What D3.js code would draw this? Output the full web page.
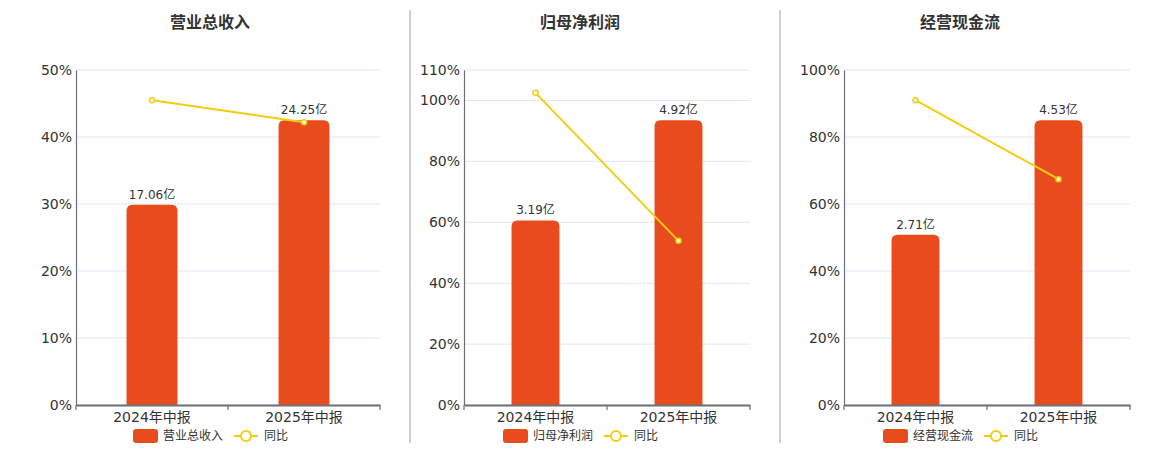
<!DOCTYPE html>
<html>
<head>
<meta charset="utf-8">
<script src="https://cdn.jsdelivr.net/npm/d3@7"></script>
<style>
  body { margin: 0; background: #fff; }
  svg { display: block; font-family: "DejaVu Sans", "Noto Sans CJK SC", sans-serif; }
</style>
</head>
<body>
<div id="chart"></div>
<script>
// data
const periods = ["2024年中报", "2025年中报"];
const titles = ["营业总收入", "归母净利润", "经营现金流"];
const revenue = [17.06, 24.25];
const revenueYoy = [45.5, 42.2];
const netProfit = [3.19, 4.92];
const netProfitYoy = [102.5, 53.9];
const cashFlow = [2.71, 4.53];
const cashFlowYoy = [91.0, 67.4];
const yMaxes = [50, 110, 100];
const yTicks = [
    [0, 10, 20, 30, 40, 50],
    [0, 20, 40, 60, 80, 100, 110],
    [0, 20, 40, 60, 80, 100]
];
const lineName = "同比";

const barColor = "#E84C1D", lineColor = "#F5CD0F";
const width = 1160, height = 450;
const plotTop = 70, plotBottom = 405;

// panel placement
const panels = [
    {left: 76, right: 380, cx: 210},
    {left: 464, right: 750, cx: 580},
    {left: 844, right: 1130, cx: 960}
];
const bars = [revenue, netProfit, cashFlow];
const yoys = [revenueYoy, netProfitYoy, cashFlowYoy];

const svg = d3.select("#chart").append("svg")
    .attr("width", width)
    .attr("height", height);

// separators
svg.selectAll(".sep").data([410, 780]).enter().append("line")
    .attr("class", "sep")
    .attr("x1", d => d).attr("x2", d => d)
    .attr("y1", 10).attr("y2", 443)
    .attr("stroke", "#a0a0a0").attr("stroke-width", 1);

function topRounded(x, y, w, h, r) {
    r = Math.min(r, h, w / 2);
    return `M${x},${y + h}V${y + r}Q${x},${y} ${x + r},${y}H${x + w - r}Q${x + w},${y} ${x + w},${y + r}V${y + h}Z`;
}

panels.forEach((p, i) => {
    const g = svg.append("g");
    const values = bars[i], yoy = yoys[i];

    const x = d3.scaleBand().domain(periods).range([p.left, p.right]);
    const y = d3.scaleLinear().domain([0, yMaxes[i]]).range([plotBottom, plotTop]);
    // bars sit on their own hidden axis
    const yBar = d3.scaleLinear().domain([0, d3.max(values) / 0.85]).range([plotBottom, plotTop]);

    g.append("text")
        .attr("x", p.cx).attr("y", 28)
        .attr("text-anchor", "middle")
        .attr("font-size", 16).attr("font-weight", "bold")
        .attr("fill", "#333")
        .text(titles[i]);

    // grid
    g.selectAll(".grid").data(yTicks[i]).enter().append("line")
        .attr("x1", p.left).attr("x2", p.right)
        .attr("y1", d => y(d)).attr("y2", d => y(d))
        .attr("stroke", "#E0E6F1");

    const yAxis = g.append("g")
        .attr("transform", `translate(${p.left},0)`)
        .call(d3.axisLeft(y).tickValues(yTicks[i]).tickSize(0).tickPadding(4).tickFormat(d => d + "%"))
        .attr("font-family", null).attr("font-size", 14);
    yAxis.select(".domain").attr("stroke", "#6E7079").attr("stroke-width", 1.2);
    yAxis.selectAll("text").attr("fill", "#333");

    const barW = x.bandwidth() * 0.335;
    g.selectAll(".bar").data(values).enter().append("path")
        .attr("d", (d, j) => {
            const bx = x(periods[j]) + x.bandwidth() / 2 - barW / 2;
            return topRounded(bx, yBar(d), barW, plotBottom - yBar(d), 6);
        })
        .attr("fill", barColor);

    g.selectAll(".lbl").data(values).enter().append("text")
        .attr("x", (d, j) => x(periods[j]) + x.bandwidth() / 2)
        .attr("y", d => yBar(d) - 6)
        .attr("text-anchor", "middle")
        .attr("font-size", 12).attr("fill", "#333")
        .text(d => d.toFixed(2) + "亿");

    const xAxis = g.append("g")
        .attr("transform", `translate(0,${plotBottom})`)
        .call(d3.axisBottom(x).tickSize(0).tickPadding(7))
        .attr("font-family", null).attr("font-size", 14);
    xAxis.select(".domain").attr("stroke", "#6E7079").attr("stroke-width", 2);
    xAxis.selectAll("text").attr("fill", "#333");
    xAxis.selectAll(".sepTick").data([p.left, (p.left + p.right) / 2, p.right]).enter().append("line")
        .attr("x1", d => d).attr("x2", d => d)
        .attr("y1", 0).attr("y2", 5)
        .attr("stroke", "#6E7079").attr("stroke-width", 1.2);

    const line = d3.line()
        .x((d, j) => x(periods[j]) + x.bandwidth() / 2)
        .y(d => y(d));
    g.append("path")
        .datum(yoy)
        .attr("d", line)
        .attr("fill", "none")
        .attr("stroke", lineColor).attr("stroke-width", 2);
    g.selectAll(".dot").data(yoy).enter().append("circle")
        .attr("cx", (d, j) => x(periods[j]) + x.bandwidth() / 2)
        .attr("cy", d => y(d))
        .attr("r", 2.5)
        .attr("fill", "#fff")
        .attr("stroke", lineColor).attr("stroke-width", 1.5);

    // legend
    const lg = g.append("g").attr("transform", `translate(${p.cx},436)`);
    lg.append("rect")
        .attr("x", -77).attr("y", -7)
        .attr("width", 25).attr("height", 14)
        .attr("rx", 3)
        .attr("fill", barColor);
    lg.append("text")
        .attr("x", -47).attr("y", 0).attr("dy", "0.35em")
        .attr("font-size", 12).attr("fill", "#333")
        .text(titles[i]);
    lg.append("line")
        .attr("x1", 24).attr("x2", 48)
        .attr("y1", 0).attr("y2", 0)
        .attr("stroke", lineColor).attr("stroke-width", 2);
    lg.append("circle")
        .attr("cx", 36).attr("cy", 0).attr("r", 5)
        .attr("fill", "#fff")
        .attr("stroke", lineColor).attr("stroke-width", 2);
    lg.append("text")
        .attr("x", 54).attr("y", 0).attr("dy", "0.35em")
        .attr("font-size", 12).attr("fill", "#333")
        .text(lineName);
});
</script>
</body>
</html>
